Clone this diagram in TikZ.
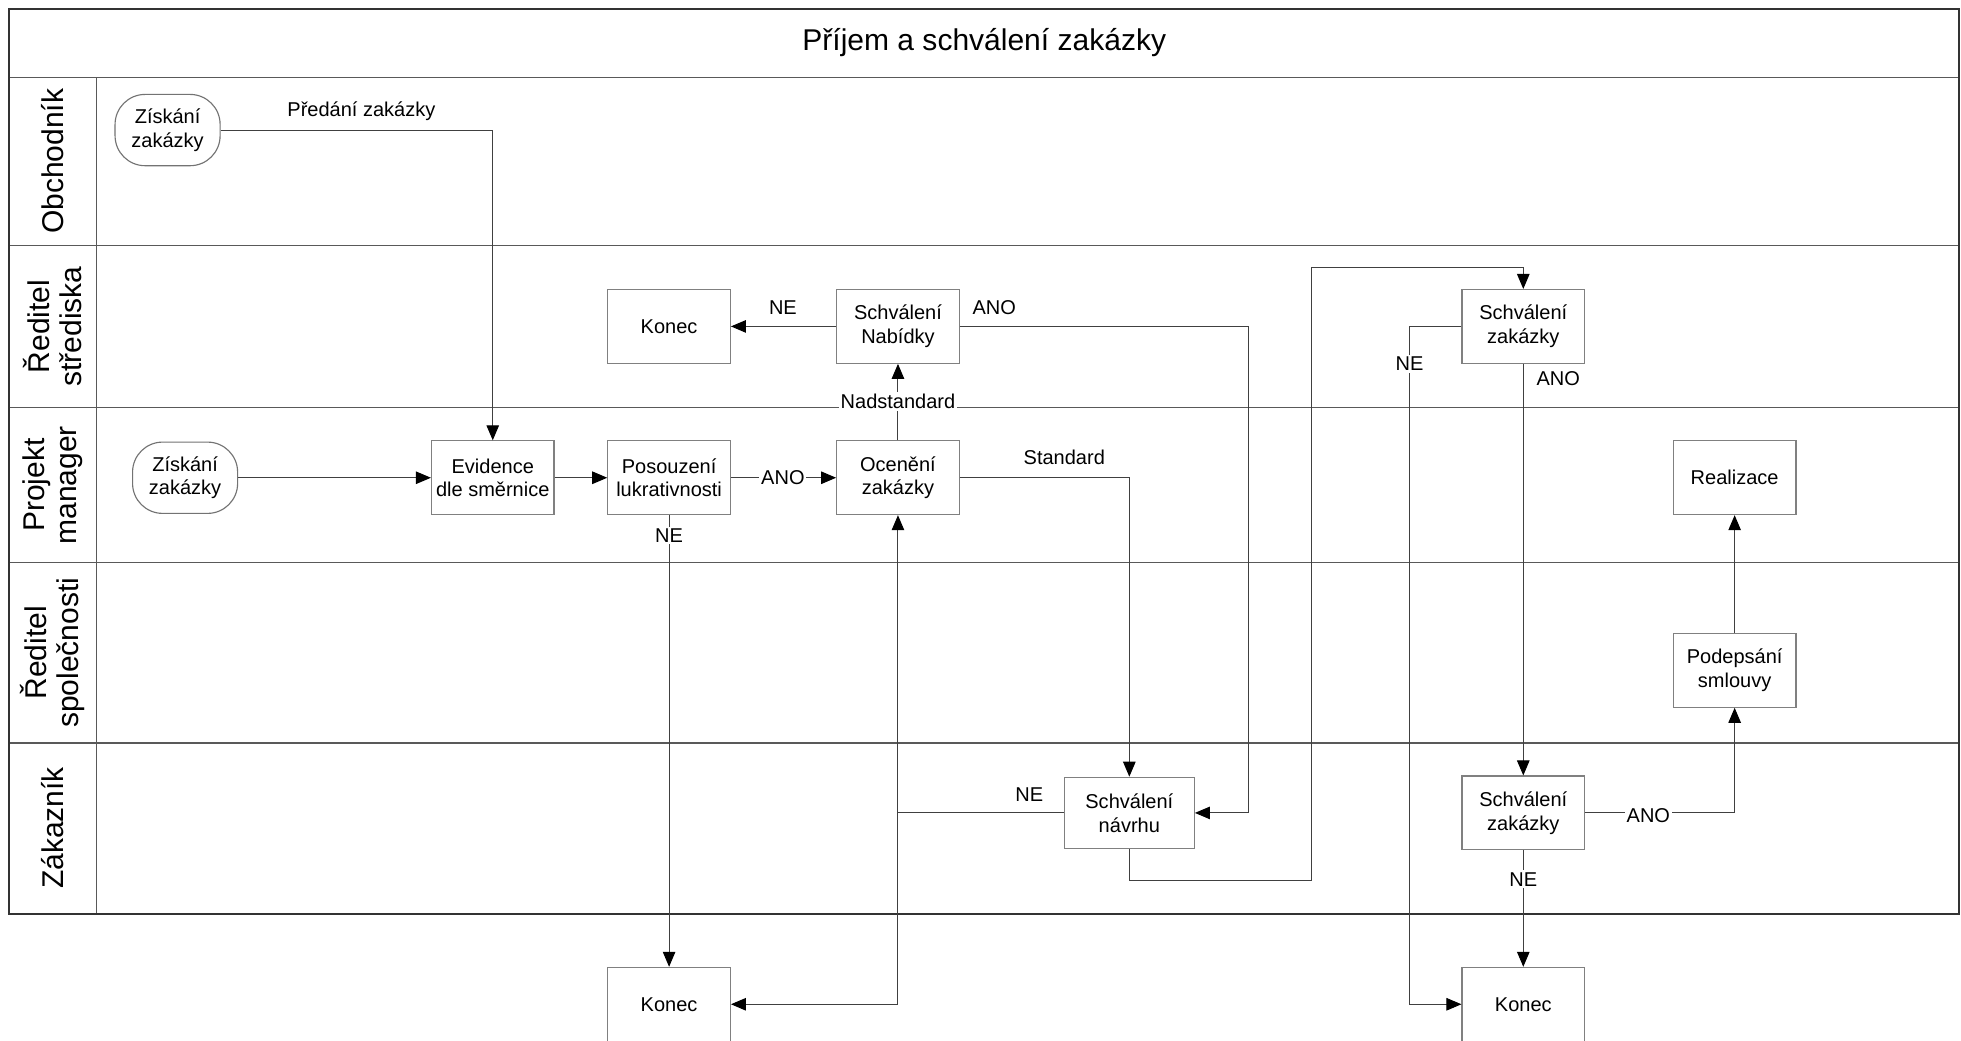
\documentclass[tikz,border=0pt]{standalone}
\usepackage{fontspec}
\setmainfont{Liberation Sans}
\usetikzlibrary{arrows.meta}
\begin{document}
\begin{tikzpicture}[x=1pt,y=-1pt,
  every node/.style={font=\fontsize{16}{19}\selectfont},
  proc/.style={draw=black!50, line width=0.9pt, minimum width=98pt, minimum height=59pt,
               align=center, inner sep=0pt, fill=white},
  startev/.style={draw=black!55, line width=0.9pt, rounded corners=24pt, minimum width=84pt,
                  minimum height=57pt, align=center, inner sep=0pt, fill=white},
  flow/.style={draw=black!75, line width=0.8pt},
  arr/.style={flow, -{Triangle[length=12pt,width=10pt,color=black]}},
  lbl/.style={inner sep=1pt},
  lblw/.style={inner sep=1.5pt, fill=white},
  lane/.style={draw=black!65, line width=1pt},
  lanetitle/.style={rotate=90, align=center, font=\fontsize{24}{26}\selectfont}
]
% canvas
\path[use as bounding box, fill=white] (0,0) rectangle (1568,832);

% pool frame and swimlanes
\draw[lane] (7,62) -- (1566,62);
\draw[lane] (7,196) -- (1566,196);
\draw[lane] (7,326) -- (1566,326);
\draw[lane] (7,450) -- (1566,450);
\draw[lane] (7,594) -- (1566,594);
\draw[lane] (77,62) -- (77,731);
\draw[draw=black!80, line width=1.6pt] (7,7) rectangle (1566,731);

\node (title) at (787,34) {\fontsize{24}{26}\selectfont Příjem a schválení zakázky};
\node[lanetitle] (lnObch) at (42,129) {Obchodník};
\node[lanetitle] (lnRS)   at (42,261) {Ředitel\\střediska};
\node[lanetitle] (lnPM)   at (42,388) {Projekt\\manager};
\node[lanetitle] (lnRSp)  at (42,522) {Ředitel\\společnosti};
\node[lanetitle] (lnZak)  at (42,662) {Zákazník};

% activities
\node[startev] (zo)  at (134,104)  {Získání\\zakázky};
\node[startev] (zp)  at (148,382)  {Získání\\zakázky};
\node[proc]    (ev)  at (394,382)  {Evidence\\dle směrnice};
\node[proc]    (po)  at (535,382)  {Posouzení\\lukrativnosti};
\node[proc]    (oc)  at (718,382)  {Ocenění\\zakázky};
\node[proc]    (k1)  at (535,261)  {Konec};
\node[proc]    (sn)  at (718,261)  {Schválení\\Nabídky};
\node[proc]    (sz1) at (1218,261) {Schválení\\zakázky};
\node[proc]    (re)  at (1387,382) {Realizace};
\node[proc]    (ps)  at (1387,536) {Podepsání\\smlouvy};
\node[proc, minimum width=104pt, minimum height=57pt] (nv) at (903,650) {Schválení\\návrhu};
\node[proc]    (sz2) at (1218,650) {Schválení\\zakázky};
\node[proc]    (k2)  at (535,803)  {Konec};
\node[proc]    (k3)  at (1218,803) {Konec};

% bend points
\coordinate (anoR) at (998,261);
\coordinate (neJ)  at (718,650);
\coordinate (lpA)  at (1049,704);
\coordinate (lpB)  at (1049,214);
\coordinate (neB)  at (1127,803);

% flows
\draw[arr] (zo.east) -| (ev.north);
\draw[arr] (zp.east) -- (ev.west);
\draw[arr] (ev.east) -- (po.west);
\draw[arr] (po.east) -- (oc.west);
\draw[arr] (oc.north) -- (sn.south);
\draw[arr] (sn.west) -- (k1.east);
\draw[arr] (sn.east) -- (anoR) |- (nv.east);
\draw[arr] (oc.east) -| (nv.north);
\draw[arr] (po.south) -- (k2.north);
\draw[arr] (nv.west) -- (neJ) -- (oc.south);
\draw[arr] (neJ) |- (k2.east);
\draw[arr] (nv.south) |- (lpA) -- (lpB) -| (sz1.north);
\draw[arr] (sz1.west) -| (neB) -- (k3.west);
\draw[arr] (sz1.south) -- (sz2.north);
\draw[arr] (sz2.east) -| (ps.south);
\draw[arr] (sz2.south) -- (k3.north);
\draw[arr] (ps.north) -- (re.south);

% flow labels
\node[lbl]  (tPred)  at (289,89)   {Předání zakázky};
\node[lbl]  (tNe1)   at (626,246)  {NE};
\node[lbl]  (tAno1)  at (795,246)  {ANO};
\node[lblw] (tNad)   at (718,321)  {Nadstandard};
\node[lblw] (tAno2)  at (626,382)  {ANO};
\node[lbl]  (tStd)   at (851,366)  {Standard};
\node[lblw] (tNe2)   at (535,428)  {NE};
\node[lbl]  (tNe3)   at (823,635)  {NE};
\node[lblw] (tNe4)   at (1127,291) {NE};
\node[lbl]  (tAno3)  at (1246,303) {ANO};
\node[lblw] (tAno4)  at (1318,652) {ANO};
\node[lblw] (tNe5)   at (1218,703) {NE};
\end{tikzpicture}
\end{document}
